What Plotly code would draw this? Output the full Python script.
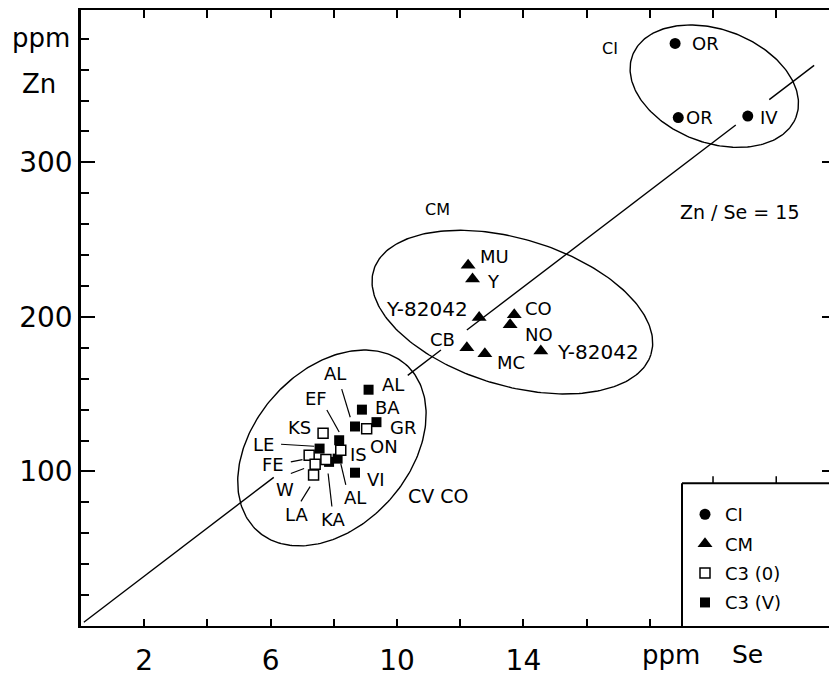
import numpy as np
import plotly.graph_objects as go

# ---------------- data ----------------
# CI chondrites
ci_x = [18.8, 18.9, 21.1]
ci_y = [377.0, 329.0, 330.0]
ci_lab = ["OR", "OR", "IV"]
ci_lab_x = [19.27, 19.08, 21.41]
ci_lab_y = [376.9, 328.8, 329.3]

# CM chondrites
cm_x = [12.25, 12.39, 12.60, 13.71, 13.58, 12.21, 12.78, 14.55]
cm_y = [233.5, 224.5, 199.7, 201.4, 195.0, 180.0, 176.2, 177.9]
cm_lab = ["MU", "Y", "Y-82042", "CO", "NO", "CB", "MC", "Y-82042"]
cm_lab_x = [12.57, 12.78, 12.31, 14.00, 14.00, 11.89, 13.10, 15.00]
cm_lab_y = [239.2, 223.2, 204.9, 205.5, 188.9, 185.2, 170.2, 177.2]
cm_lab_anchor = ["left", "left", "right", "left", "left", "right", "left", "left"]

# C3 (V)
c3v_x = [9.10, 8.89, 9.35, 8.67, 8.17, 7.55, 8.12, 7.85, 8.67]
c3v_y = [152.9, 140.0, 131.9, 129.1, 120.2, 114.8, 108.3, 106.2, 99.2]
# C3 (O)
c3o_x = [9.04, 7.66, 8.22, 7.22, 7.75, 7.41, 7.36]
c3o_y = [127.6, 124.8, 113.7, 110.5, 107.7, 104.7, 97.7]

# C3 labels
c3_lab = ["AL", "BA", "GR", "AL", "EF", "KS", "ON", "LE", "IS", "FE", "W", "VI", "AL", "LA", "KA"]
c3_lab_x = [9.86, 9.71, 10.20, 8.04, 7.45, 6.90, 9.60, 5.76, 8.78, 6.08, 6.46, 9.33, 8.67, 6.83, 7.96]
c3_lab_y = [156.0, 141.5, 128.2, 163.5, 147.4, 128.2, 116.4, 117.5, 111.0, 104.6, 88.1, 95.0, 83.2, 72.0, 68.8]

# leader lines (pairs of points, None separates)
lead_x = [8.25, 8.52, None, 7.78, 8.17, None, 6.33, 7.38, None, 6.64, 7.01, None,
          6.64, 7.06, None, 6.96, 7.25, None, 7.94, 7.82, None, 8.38, 8.22]
lead_y = [153.3, 135.1, None, 139.8, 125.5, None, 117.6, 116.3, None, 106.2, 107.7, None,
          98.7, 101.9, None, 80.6, 90.2, None, 77.3, 98.7, None, 91.3, 105.1]

# Zn/Se = 15 reference line (broken at labels)
line_x = [0.09, 6.10, None, 10.34, 11.39, None, 12.21, 20.72, None, 21.78, 23.20]
line_y = [2.4, 96.2, None, 162.2, 178.6, None, 191.5, 324.2, None, 340.6, 362.8]

# group ellipses: centre (data), semi-axes (px), angle (deg)
ell_cx = [20.04, 13.65, 7.94]
ell_cy = [349.3, 203.1, 115.2]
ell_a = [87.5, 145.0, 112.0]
ell_b = [57.0, 74.0, 78.0]
ell_ang = [-21.0, -17.0, 48.9]

x_ticks = [2, 4, 6, 8, 10, 12, 14, 16, 18]
x_ticktext = ["2", "", "6", "", "10", "", "14", "", ""]
x_top_ticks = [2, 4, 6, 8, 10, 12, 14, 16, 18, 20, 22]
y_ticks = [100, 200, 300]
y_minor = [20, 40, 60, 80, 120, 140, 160, 180, 220, 240, 260, 280, 320, 340, 360, 380]

# ---------------- layout constants ----------------
W, H = 829, 677
ML, MR, MT, MB = 81, 0, 10, 46
PW, PH = W - ML - MR, H - MT - MB
XMAX, YMAX = 23.67, 398.6
SX, SY = PW / XMAX, PH / YMAX
FONT = "DejaVu Sans"

def px2paper(px, py):
    return (px - ML) / PW, (H - MB - py) / PH

fig = go.Figure()

# reference line
fig.add_trace(go.Scatter(x=line_x, y=line_y, mode="lines", line=dict(color="black", width=1.4),
                         showlegend=False, hoverinfo="skip"))
# ellipses
t = np.linspace(0, 2 * np.pi, 240)
for cx, cy, a, b, ang in zip(ell_cx, ell_cy, ell_a, ell_b, ell_ang):
    th = np.radians(ang)
    dx = a * np.cos(t) * np.cos(th) - b * np.sin(t) * np.sin(th)
    dy = a * np.cos(t) * np.sin(th) + b * np.sin(t) * np.cos(th)
    fig.add_trace(go.Scatter(x=cx + dx / SX, y=cy + dy / SY, mode="lines",
                             line=dict(color="black", width=1.4), showlegend=False, hoverinfo="skip"))
# leaders
fig.add_trace(go.Scatter(x=lead_x, y=lead_y, mode="lines", line=dict(color="black", width=1.2),
                         showlegend=False, hoverinfo="skip"))

# markers
fig.add_trace(go.Scatter(x=ci_x, y=ci_y, mode="markers", name="CI", legendrank=1, legendgroup="g1",
                         marker=dict(symbol="circle", size=11, color="black")))
fig.add_trace(go.Scatter(x=cm_x, y=cm_y, mode="markers", name="CM", legendrank=2, legendgroup="g2",
                         marker=dict(symbol="triangle-up", size=13, color="black")))
fig.add_trace(go.Scatter(x=c3v_x, y=c3v_y, mode="markers", name="C3 (V)", legendrank=4, legendgroup="g4",
                         marker=dict(symbol="square", size=10, color="black")))
fig.add_trace(go.Scatter(x=c3o_x, y=c3o_y, mode="markers", name="C3 (0)", legendrank=3, legendgroup="g3",
                         marker=dict(symbol="square", size=10, color="white",
                                     line=dict(color="black", width=1.5))))
# dummy traces for the mirror axes
fig.add_trace(go.Scatter(x=[], y=[], xaxis="x2", showlegend=False))
fig.add_trace(go.Scatter(x=[], y=[], yaxis="y2", showlegend=False))

ann = []
def lab(text, x, y, size=18, xanchor="center", ref="data"):
    r = ("x", "y") if ref == "data" else ("paper", "paper")
    ann.append(dict(text=text, x=x, y=y, xref=r[0], yref=r[1], showarrow=False,
                    xanchor=xanchor, yanchor="middle", font=dict(family=FONT, size=size, color="black")))

for s, x, y in zip(ci_lab, ci_lab_x, ci_lab_y):
    lab(s, x, y, 18, "left")
for s, x, y, an in zip(cm_lab, cm_lab_x, cm_lab_y, cm_lab_anchor):
    lab(s, x, y, 20 if s.startswith("Y-") else 18, an)
for s, x, y in zip(c3_lab, c3_lab_x, c3_lab_y):
    lab(s, x, y, 18)

lab("CI", 16.74, 374.0, 16)
lab("CM", 11.27, 269.6, 16)
lab("CV CO", 11.31, 84.4, 19)
lab("Zn / Se = 15", 20.84, 267.6, 19)
# axis titles (paper coordinates, outside the plot area)
for text, (px, py), size in [("ppm", (41, 38), 26), ("Zn", (39, 85), 26),
                             ("ppm", (671, 660), 26), ("Se", (747.5, 660), 25)]:
    xp, yp = px2paper(px, py)
    lab(text, xp, yp, size, "center", ref="paper")

# legend box and ticks on its top edge
lx0, ly1 = px2paper(682, 487)
shapes = [
    dict(type="line", xref="paper", yref="paper", x0=lx0, x1=1.0, y0=ly1, y1=ly1,
         line=dict(color="black", width=2)),
    dict(type="line", xref="paper", yref="paper", x0=lx0, x1=lx0, y0=0, y1=ly1,
         line=dict(color="black", width=2)),
]
for xv in [20, 22]:
    shapes.append(dict(type="line", xref="x", yref="paper", x0=xv, x1=xv, y0=ly1, y1=ly1 + 7 / PH,
                       line=dict(color="black", width=1.5)))

leg_x, leg_y = px2paper(685, 500)
fig.update_layout(
    width=W, height=H, margin=dict(l=ML, r=MR, t=MT, b=MB),
    paper_bgcolor="white", plot_bgcolor="white",
    font=dict(family=FONT, color="black"),
    annotations=ann, shapes=shapes,
    xaxis=dict(range=[0, XMAX], showgrid=False, zeroline=False, showline=True, linecolor="black",
               linewidth=2, ticks="inside", ticklen=7, tickwidth=1.5, tickcolor="black",
               tickvals=x_ticks, ticktext=x_ticktext, tickfont=dict(size=28, family=FONT),
               ticklabelstandoff=8),
    xaxis2=dict(range=[0, XMAX], overlaying="x", side="top", showgrid=False, zeroline=False,
                showline=True, linecolor="black", linewidth=2, ticks="inside", ticklen=8,
                tickwidth=1.5, tickcolor="black", tickvals=x_top_ticks, showticklabels=False),
    yaxis=dict(range=[0, YMAX], showgrid=False, zeroline=False, showline=True, linecolor="black",
               linewidth=2.5, ticks="inside", ticklen=14, tickwidth=1.5, tickcolor="black",
               tickvals=y_ticks, tickfont=dict(size=28, family=FONT),
               minor=dict(tickvals=y_minor, ticks="inside", ticklen=8, tickwidth=1.5,
                          tickcolor="black", showgrid=False)),
    yaxis2=dict(range=[0, YMAX], overlaying="y", side="right", showgrid=False, zeroline=False,
                showline=False, ticks="inside", ticklen=7, tickwidth=1.5, tickcolor="black",
                tickvals=y_ticks, showticklabels=False),
    legend=dict(x=leg_x, xanchor="left", y=leg_y, yanchor="top",
                bgcolor="rgba(0,0,0,0)", borderwidth=0, font=dict(size=18, family=FONT),
                tracegroupgap=3),
    showlegend=True,
)

fig.write_html("out.html", config={"displayModeBar": False},
               post_script="document.body.style.margin='0px';")
